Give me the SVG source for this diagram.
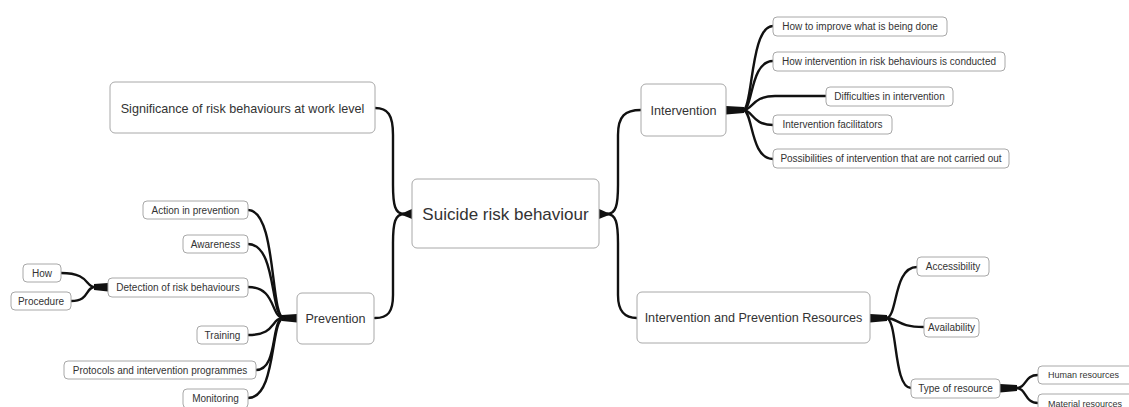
<svg xmlns="http://www.w3.org/2000/svg" width="1129" height="407" viewBox="0 0 1129 407">
<style>
.box{fill:#fff;stroke:#a8a8a8;stroke-width:1}
.t{font-family:"Liberation Sans",Arial,sans-serif;fill:#333;text-anchor:middle}
.s{font-size:10px}
.xs{font-size:9px;text-anchor:start}
.m{font-size:12.6px}
.l{font-size:17px}
.c{fill:none;stroke:#111;stroke-width:2.4;stroke-linecap:round}
.b{fill:#111;stroke:none}
</style>
<rect width="1129" height="407" fill="#fff"/>
<g id="connectors">
<!-- center left -->
<path class="c" d="M404,214 C395,214 393,205 393,185 L393,135 C393,115 388,108 375,108"/>
<path class="c" d="M404,214 C395,214 393,223 393,243 L393,295 C393,312 388,318 375,318"/>
<path class="b" d="M412,209 L412,219 C407,217 403,215 399,214 C403,213 407,211 412,209 Z"/>
<!-- center right -->
<path class="c" d="M607,214 C616,214 618,205 618,185 L618,135 C618,116 625,110 641,110"/>
<path class="c" d="M607,214 C616,214 618,223 618,243 L618,295 C618,312 625,318 637,318"/>
<path class="b" d="M599,209 L599,219 C604,217 608,215 612,214 C608,213 604,211 599,209 Z"/>
<!-- prevention -->
<path class="b" d="M297,314 L297,322.5 L282,321 L282,315 Z"/>
<path class="c" d="M284,318 C270,318 277,210 248,210"/>
<path class="c" d="M284,318 C270,318 277,244 248,244"/>
<path class="c" d="M284,318 C270,318 277,287 248,287"/>
<path class="c" d="M284,318 C270,318 277,335 248,335"/>
<path class="c" d="M284,318 C270,318 279,370 256,370"/>
<path class="c" d="M284,318 C270,318 277,398 248,398"/>
<!-- detection -->
<path class="b" d="M108,283 L108,291.5 L94,290 L94,284 Z"/>
<path class="c" d="M95,287 C85,287 90,273 61,273"/>
<path class="c" d="M95,287 C85,287 90,301 71,301"/>
<!-- intervention -->
<path class="b" d="M726,106 L726,114.5 L744,113 L744,107 Z"/>
<path class="c" d="M743,110 C753,110 750,26 773,26"/>
<path class="c" d="M743,110 C753,110 750,61 773,61"/>
<path class="c" d="M743,110 C753,110 752,96 775,96 L826,96"/>
<path class="c" d="M743,110 C753,110 752,125 773,125"/>
<path class="c" d="M743,110 C753,110 750,159 773,159"/>
<!-- resources -->
<path class="b" d="M870,314 L870,322.5 L887,321 L887,315 Z"/>
<path class="c" d="M886,318 C898,318 893,267 917,267"/>
<path class="c" d="M886,318 C898,318 897,327 924,327"/>
<path class="c" d="M886,318 C898,318 893,388 911,388"/>
<!-- type of resource -->
<path class="b" d="M1000,384 L1000,392.5 L1017,391 L1017,385 Z"/>
<path class="c" d="M1016,388 C1027,388 1024,375 1038,375"/>
<path class="c" d="M1016,388 C1027,388 1024,403 1038,403"/>
</g>
<g id="n-center"><rect class="box" x="412" y="179" width="187" height="69" rx="5"/><text class="t l" x="505.5" y="219.5">Suicide risk behaviour</text></g>
<g id="n-significance"><rect class="box" x="110" y="82" width="265" height="51" rx="5"/><text class="t m" x="242.5" y="112.5">Significance of risk behaviours at work level</text></g>
<g id="n-prevention"><rect class="box" x="297" y="293" width="77" height="51" rx="5"/><text class="t m" x="335.5" y="323">Prevention</text></g>
<g id="n-intervention"><rect class="box" x="641" y="84" width="85" height="52" rx="5"/><text class="t m" x="683.5" y="114.5">Intervention</text></g>
<g id="n-resources"><rect class="box" x="637" y="292" width="233" height="51" rx="5"/><text class="t m" x="753.5" y="322">Intervention and Prevention Resources</text></g>
<g id="n-action"><rect class="box" x="143" y="201" width="105" height="18" rx="4"/><text class="t s" x="195.5" y="213.5">Action in prevention</text></g>
<g id="n-awareness"><rect class="box" x="183" y="235" width="65" height="18" rx="4"/><text class="t s" x="215.5" y="247.5">Awareness</text></g>
<g id="n-detection"><rect class="box" x="108" y="278" width="140" height="19" rx="4"/><text class="t s" x="178" y="291">Detection of risk behaviours</text></g>
<g id="n-how"><rect class="box" x="23" y="264" width="38" height="18" rx="4"/><text class="t s" x="42" y="276.5">How</text></g>
<g id="n-procedure"><rect class="box" x="11" y="292" width="60" height="18" rx="4"/><text class="t s" x="41" y="304.5">Procedure</text></g>
<g id="n-training"><rect class="box" x="197" y="326" width="51" height="18" rx="4"/><text class="t s" x="222.5" y="338.5">Training</text></g>
<g id="n-protocols"><rect class="box" x="64" y="361" width="192" height="18" rx="4"/><text class="t s" x="160" y="373.5">Protocols and intervention programmes</text></g>
<g id="n-monitoring"><rect class="box" x="183" y="389" width="65" height="19" rx="4"/><text class="t s" x="215.5" y="402">Monitoring</text></g>
<g id="n-improve"><rect class="box" x="773" y="17" width="174" height="19" rx="4"/><text class="t s" x="860" y="30">How to improve what is being done</text></g>
<g id="n-conducted"><rect class="box" x="773" y="52" width="232" height="19" rx="4"/><text class="t s" x="889" y="65">How intervention in risk behaviours is conducted</text></g>
<g id="n-difficulties"><rect class="box" x="826" y="87" width="127" height="19" rx="4"/><text class="t s" x="889.5" y="100">Difficulties in intervention</text></g>
<g id="n-facilitators"><rect class="box" x="773" y="115" width="119" height="19" rx="4"/><text class="t s" x="832.5" y="128">Intervention facilitators</text></g>
<g id="n-possibilities"><rect class="box" x="773" y="149" width="236" height="19" rx="4"/><text class="t s" x="891" y="162">Possibilities of intervention that are not carried out</text></g>
<g id="n-accessibility"><rect class="box" x="917" y="257" width="72" height="19" rx="4"/><text class="t s" x="953" y="270">Accessibility</text></g>
<g id="n-availability"><rect class="box" x="924" y="318" width="55" height="19" rx="4"/><text class="t s" x="951.5" y="331">Availability</text></g>
<g id="n-type"><rect class="box" x="911" y="379" width="89" height="19" rx="4"/><text class="t s" x="955.5" y="392">Type of resource</text></g>
<g id="n-human"><rect class="box" x="1038" y="366" width="100" height="18" rx="4"/><text class="t xs" x="1048" y="378">Human resources</text></g>
<g id="n-material"><rect class="box" x="1038" y="394" width="100" height="19" rx="4"/><text class="t xs" x="1048" y="406.5">Material resources</text></g>
</svg>
